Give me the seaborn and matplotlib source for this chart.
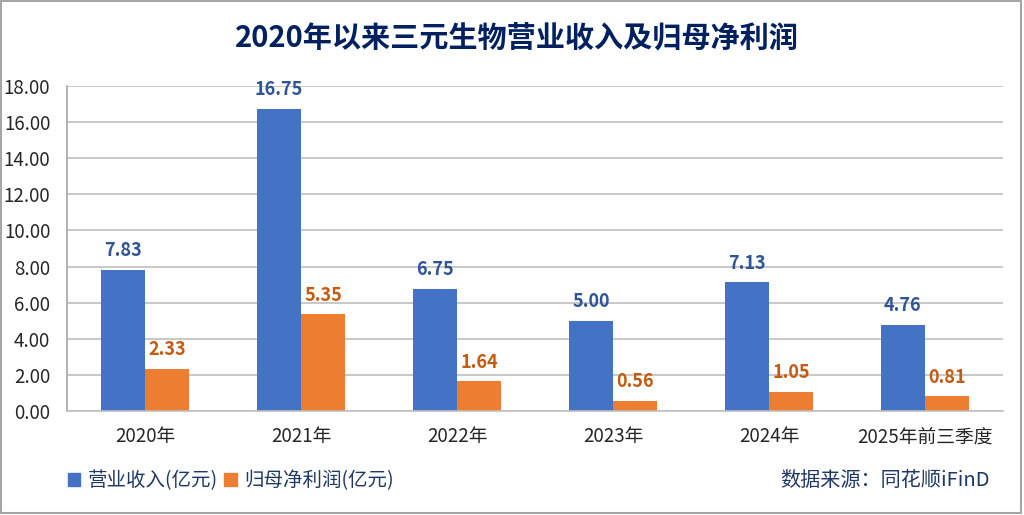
import seaborn as sns
import matplotlib.pyplot as plt
import matplotlib.patches as mpatches
import pandas as pd

# data
years = ["2020年", "2021年", "2022年", "2023年", "2024年", "2025年前三季度"]
revenue = [7.83, 16.75, 6.75, 5.00, 7.13, 4.76]
net_profit = [2.33, 5.35, 1.64, 0.56, 1.05, 0.81]
series_names = ["营业收入(亿元)", "归母净利润(亿元)"]

df = pd.DataFrame({
    "year": years * 2,
    "value": revenue + net_profit,
    "series": [series_names[0]] * len(years) + [series_names[1]] * len(years),
})

sns.set_theme(style="white")
plt.rcParams["font.family"] = ["Noto Sans CJK SC", "DejaVu Sans"]

bar_colors = ["#4472C4", "#ED7D31"]
label_colors = ["#2F5597", "#C55A11"]

fig = plt.figure(figsize=(10.24, 5.15), dpi=100)
ax = fig.add_axes([0.0654, 0.2019, 0.9141, 0.6311])

sns.barplot(data=df, x="year", y="value", hue="series",
            palette=bar_colors, width=0.57, saturation=1, linewidth=0,
            ax=ax, legend=False)

for cont, col in zip(ax.containers, label_colors):
    ax.bar_label(cont, fmt="%.2f", padding=7, color=col,
                 fontsize=13, fontweight="bold")

ax.set_ylim(0, 18)
ax.set_yticks(range(0, 19, 2))
ax.set_yticklabels([f"{v:.2f}" for v in range(0, 19, 2)], fontsize=13.5)
ax.tick_params(axis="x", labelsize=13.5, pad=5)
ax.tick_params(axis="y", pad=6)
ax.set_xlim(-0.5, len(years) - 0.5)
ax.set_xlabel("")
ax.set_ylabel("")
ax.grid(axis="y", color="#BFBFBF", linewidth=1.2)
ax.set_axisbelow(True)
for s in ["top", "right"]:
    ax.spines[s].set_visible(False)
ax.spines["left"].set_color("#A6A6A6")
ax.spines["bottom"].set_color("#BFBFBF")
ax.spines["left"].set_linewidth(1.2)
ax.spines["bottom"].set_linewidth(1.2)

fig.text(0.505, 1 - 38 / 515, "2020年以来三元生物营业收入及归母净利润",
         ha="center", va="center", fontsize=21, fontweight="bold",
         color="#002060")

handles = [mpatches.Patch(color=c, label=n) for c, n in zip(bar_colors, series_names)]
fig.legend(handles=handles, loc="center left",
           bbox_to_anchor=(50 / 1024, 1 - 481 / 515), ncol=2, frameon=False,
           fontsize=14, handlelength=0.65, handleheight=0.65,
           handletextpad=0.4, columnspacing=0.3, labelcolor="#1F3864")

fig.text(990 / 1024, 1 - 481 / 515, "数据来源：同花顺iFinD",
         ha="right", va="center", fontsize=14.5, color="#1F3864")

fig.patches.append(mpatches.Rectangle((0.001, 0.003), 0.996, 0.995,
                                      transform=fig.transFigure, fill=False,
                                      edgecolor="#A6A6A6", linewidth=1.5))

plt.savefig("out.png", dpi=100)
